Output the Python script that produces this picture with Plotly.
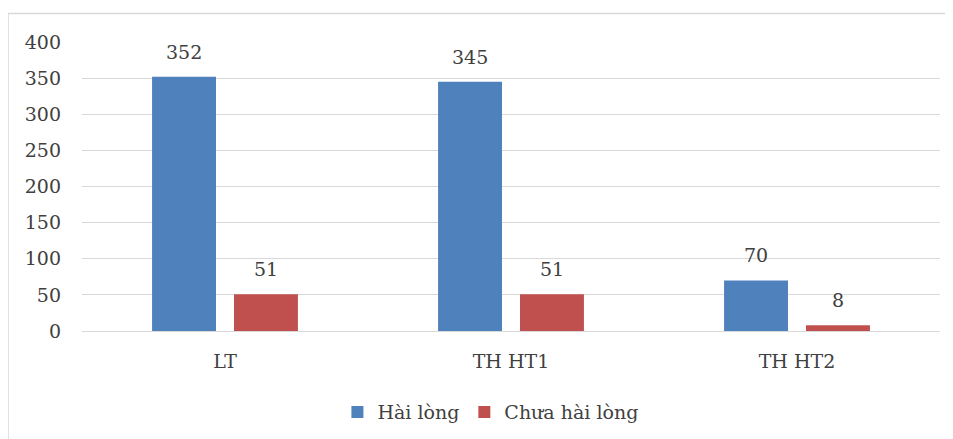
import plotly.graph_objects as go

categories = ["LT", "TH HT1", "TH HT2"]
hai_long = [352, 345, 70]
chua_hai_long = [51, 51, 8]
series_names = ["Hài lòng", "Chưa hài lòng"]
y_ticks = [0, 50, 100, 150, 200, 250, 300, 350, 400]

FONT = "DejaVu Serif"
TXT = "#404040"
COLORS = ["#4F81BD", "#C0504D"]

fig = go.Figure()
for name, vals, col in zip(series_names, [hai_long, chua_hai_long], COLORS):
    fig.add_trace(go.Bar(x=categories, y=vals, name=name,
                         marker=dict(color=col, line=dict(width=0))))

annotations = []
for vals, shift in [(hai_long, -41), (chua_hai_long, 41)]:
    for c, v in zip(categories, vals):
        annotations.append(dict(x=c, y=v, xref="x", yref="y", text=str(v),
                                showarrow=False, xshift=shift, yshift=12,
                                yanchor="bottom",
                                font=dict(family=FONT, size=19, color=TXT)))

fig.update_layout(
    width=953, height=439,
    margin=dict(l=74, r=21, t=34, b=116),
    paper_bgcolor="white", plot_bgcolor="white",
    barmode="group", bargap=0.427, bargroupgap=0.22,
    font=dict(family=FONT, size=19, color=TXT),
    showlegend=True,
    annotations=annotations,
    legend=dict(orientation="h", x=0.476, xanchor="center", y=-0.215, yanchor="top",
                font=dict(family=FONT, size=19, color=TXT),
                itemwidth=30, tracegroupgap=0, traceorder="normal"),
    xaxis=dict(showgrid=False, showline=False, ticks="", zeroline=False,
               tickfont=dict(family=FONT, size=19, color=TXT), ticklabelstandoff=17),
    yaxis=dict(range=[0, 400], tickvals=y_ticks, showgrid=True, gridcolor="#D9D9D9",
               gridwidth=1.3, zeroline=True, zerolinecolor="#D9D9D9", zerolinewidth=1.3,
               showline=False, ticks="",
               tickfont=dict(family=FONT, size=19, color=TXT), ticklabelstandoff=20),
    shapes=[
        dict(type="line", xref="paper", yref="paper", x0=-0.0862, x1=1.1, y0=1.099, y1=1.099,
             line=dict(color="#D9D9D9", width=1.5)),
        dict(type="line", xref="paper", yref="paper", x0=-0.0862, x1=-0.0862, y0=-0.4, y1=1.099,
             line=dict(color="#D9D9D9", width=1.5)),
    ],
)

fig.write_html("out.html")
